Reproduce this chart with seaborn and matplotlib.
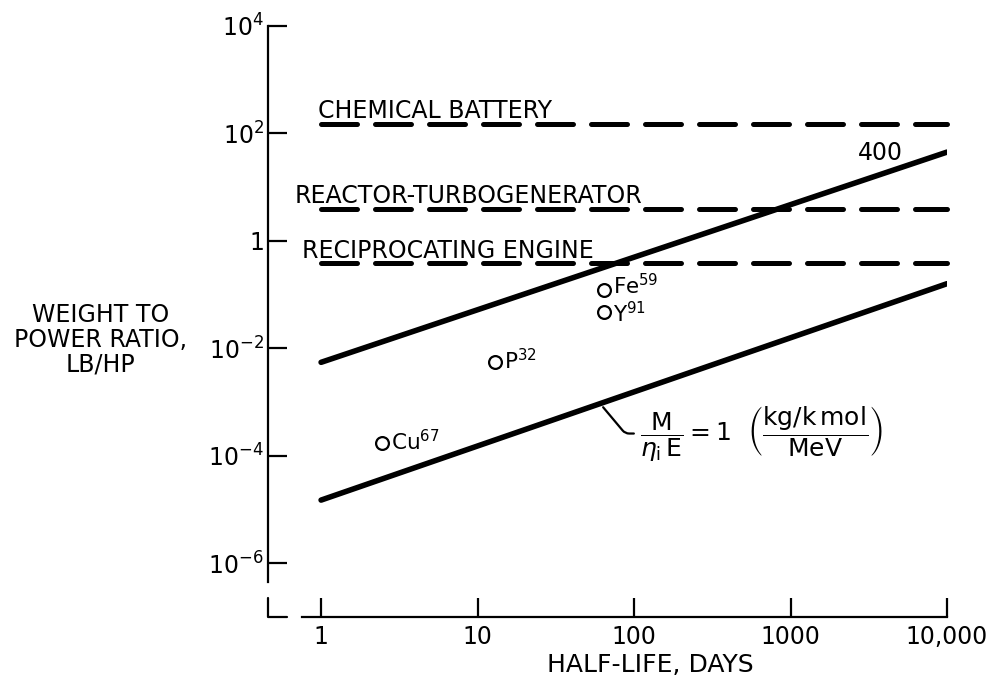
import numpy as np
import pandas as pd
import matplotlib
matplotlib.use("Agg")
import matplotlib.pyplot as plt
import seaborn as sns

# ---------------- data ----------------
halflife_ends = [1, 10000]
upper_ratio = [5.5e-3, 45.0]      # line labelled "400"
lower_ratio = [1.5e-5, 0.16]      # M/(eta_i E) = 1 line

ref_names = ["CHEMICAL BATTERY", "REACTOR-TURBOGENERATOR", "RECIPROCATING ENGINE"]
ref_values = [150.0, 4.0, 0.38]

iso_names = ["Fe", "Y", "P", "Cu"]
iso_mass = ["59", "91", "32", "67"]
iso_halflife = [64, 64, 13, 2.46]
iso_ratio = [0.12, 0.047, 5.5e-3, 1.7e-4]

xticks = [1, 10, 100, 1000, 10000]
xtick_labels = ["1", "10", "100", "1000", "10,000"]
yticks = [1e4, 1e2, 1, 1e-2, 1e-4, 1e-6]
ytick_labels = [r"$\mathregular{10^{4}}$", r"$\mathregular{10^{2}}$", "1",
                r"$\mathregular{10^{-2}}$", r"$\mathregular{10^{-4}}$",
                r"$\mathregular{10^{-6}}$"]

# ---------------- style ----------------
sns.set_style("ticks")
plt.rcParams["font.family"] = ["DejaVu Sans"]
plt.rcParams["mathtext.fontset"] = "dejavusans"
plt.rcParams["text.color"] = "black"
plt.rcParams["axes.labelcolor"] = "black"

fig = plt.figure(figsize=(9.93, 6.77), dpi=100)
ax = fig.add_axes([0.2699, 0.0886, 0.6838, 0.873])
ax.set_xscale("log")
ax.set_yscale("log")

lines_df = pd.DataFrame({"halflife": halflife_ends * 2,
                         "ratio": upper_ratio + lower_ratio,
                         "line": ["upper"] * 2 + ["lower"] * 2})
for name, sub in lines_df.groupby("line"):
    sns.lineplot(data=sub, x="halflife", y="ratio", ax=ax, color="black",
                 lw=4.0, estimator=None, solid_capstyle="round")

for name, val in zip(ref_names, ref_values):
    ref_df = pd.DataFrame({"halflife": halflife_ends, "ratio": [val, val]})
    sns.lineplot(data=ref_df, x="halflife", y="ratio", ax=ax, color="black",
                 lw=3.6, estimator=None, linestyle=(0, (7.2, 3.6)),
                 dash_capstyle="round", clip_on=False)

iso_df = pd.DataFrame({"halflife": iso_halflife, "ratio": iso_ratio})
sns.scatterplot(data=iso_df, x="halflife", y="ratio", ax=ax, marker="o",
                s=85, facecolor="white", edgecolor="black", linewidth=1.6,
                zorder=5)

# reference line labels
label_x = [0.96, 0.68, 0.76]
for name, val, lx in zip(ref_names, ref_values, label_x):
    ax.annotate(name, xy=(lx, val), xytext=(0, 4.3), textcoords="offset points",
                ha="left", va="baseline", fontsize=17)

# isotope labels
label_dy = [-3.0, -7.0, -5.0, -5.0]
for n, m, hx, ry, dy in zip(iso_names, iso_mass, iso_halflife, iso_ratio, label_dy):
    ax.annotate(n + r"$\mathregular{^{" + m + "}}$", xy=(hx, ry),
                xytext=(6.5, dy), textcoords="offset points",
                ha="left", va="baseline", fontsize=15.5)

ax.text(3730, 43, "400", ha="center", va="center", fontsize=17)

formula = (r"$\dfrac{\mathrm{M}}{\eta_{\mathrm{i}}\,\mathrm{E}}=\mathrm{1}\ \ "
           r"\left(\dfrac{\mathrm{kg/k\,mol}}{\mathrm{MeV}}\right)$")
ax.annotate(formula, xy=(61, 9.2e-4), xytext=(109, 2.6e-4),
            ha="left", va="center", fontsize=18,
            arrowprops=dict(arrowstyle="-", lw=1.6, color="black",
                            connectionstyle="angle,angleA=0,angleB=-50,rad=4",
                            shrinkA=2, shrinkB=3))

# axes
ax.set_xlim(0.458, 1e4)
ax.set_ylim(1e-7, 1e4)
ax.set_xticks(xticks)
ax.set_xticklabels(xtick_labels)
ax.set_yticks(yticks)
ax.set_yticklabels(ytick_labels)
ax.xaxis.set_minor_locator(matplotlib.ticker.NullLocator())
ax.yaxis.set_minor_locator(matplotlib.ticker.NullLocator())
ax.tick_params(axis="y", direction="in", length=14, width=1.6, pad=3,
               labelsize=17, color="black", labelcolor="black")
ax.tick_params(axis="x", direction="in", length=14, width=1.6, pad=6,
               labelsize=17, color="black", labelcolor="black")

sns.despine(ax=ax)
for sp in ["left", "bottom"]:
    ax.spines[sp].set_linewidth(1.6)
    ax.spines[sp].set_color("black")
ax.spines["left"].set_bounds(4.5e-7, 1e4)
ax.spines["bottom"].set_bounds(0.757, 1e4)
ax.plot([0, 0, 0.028], [0.032, 0, 0], transform=ax.transAxes, color="black",
        lw=1.6, clip_on=False)

ax.set_xlabel("HALF-LIFE, DAYS", fontsize=18, va="center")
ax.xaxis.set_label_coords(0.5626, -0.081)
ax.set_ylabel("WEIGHT TO\nPOWER RATIO,\nLB/HP", rotation=0, fontsize=17,
              ha="center", va="center", linespacing=1.05)
ax.yaxis.set_label_coords(-0.247, 0.469)

fig.savefig("out.png", dpi=100)
